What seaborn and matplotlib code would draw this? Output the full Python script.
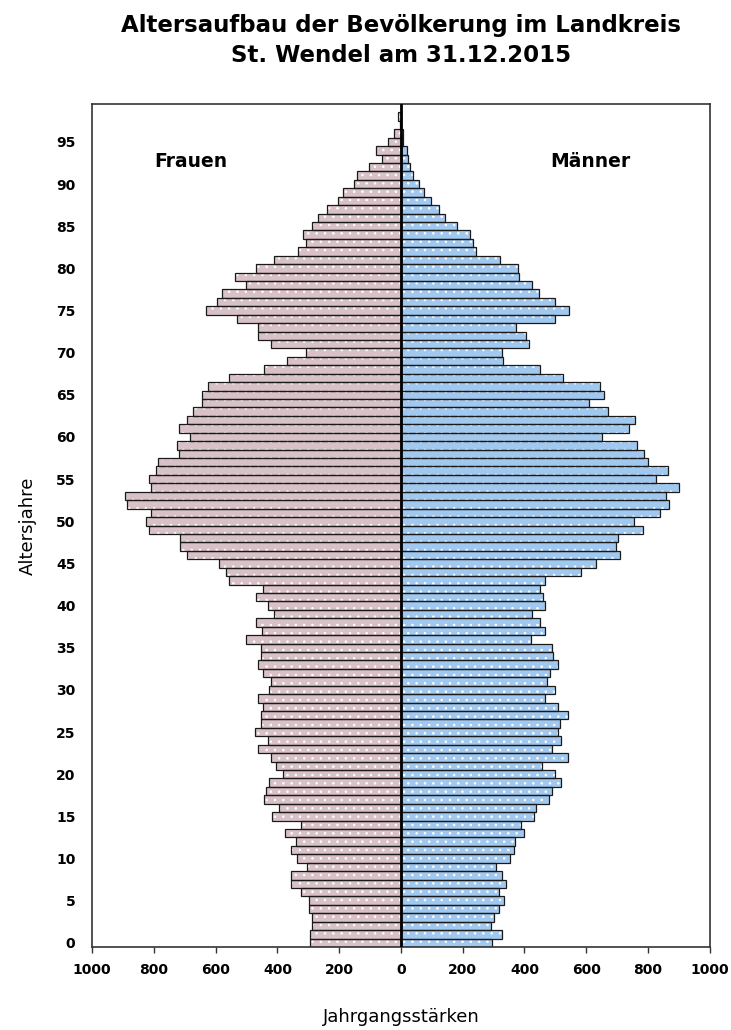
import matplotlib
matplotlib.use('Agg')
import matplotlib.pyplot as plt
import numpy as np
import pandas as pd
import seaborn as sns

# Altersjahre 0..98
ages = list(range(99))

# Frauen, Jahrgangsstärken
frauen = [293, 293, 287, 287, 298, 298, 325, 356, 356, 303,
          335, 355, 339, 375, 323, 416, 396, 443, 437, 426,
          381, 406, 422, 463, 432, 474, 453, 453, 448, 463,
          426, 422, 448, 463, 453, 453, 501, 449, 468, 411,
          432, 468, 448, 558, 568, 589, 694, 714, 714, 815,
          824, 808, 887, 892, 808, 817, 792, 786, 720, 724,
          683, 718, 694, 672, 645, 645, 626, 558, 444, 370,
          307, 422, 463, 463, 532, 630, 595, 578, 501, 537,
          468, 411, 333, 307, 318, 288, 267, 240, 205, 188,
          151, 142, 103, 61, 80, 42, 24, 3, 8]

# Maenner
maenner = [296, 328, 292, 302, 317, 334, 317, 339, 328, 307,
           354, 365, 370, 400, 389, 431, 436, 478, 488, 519,
           499, 457, 541, 488, 519, 508, 514, 541, 508, 467,
           499, 473, 482, 508, 493, 488, 420, 467, 451, 425,
           467, 461, 451, 467, 582, 633, 708, 697, 702, 785,
           754, 838, 868, 857, 899, 827, 864, 801, 786, 765,
           650, 738, 758, 670, 608, 659, 644, 524, 451, 332,
           326, 415, 405, 373, 499, 545, 499, 446, 424, 383,
           379, 321, 243, 234, 222, 180, 144, 123, 97, 75,
           58, 40, 30, 24, 20, 8, 7, 0, 0]

xticks = [-1000, -800, -600, -400, -200, 0, 200, 400, 600, 800, 1000]
xticklabels = ['1000', '800', '600', '400', '200', '0', '200', '400', '600', '800', '1000']
yticks = list(range(0, 100, 5))

df = pd.DataFrame({'alter': ages,
                   'frauen': [-v for v in frauen],
                   'maenner': maenner})

sns.set_style('white')
plt.rcParams['font.family'] = ['DejaVu Sans']
plt.rcParams['hatch.linewidth'] = 0.6
plt.rcParams['text.color'] = 'black'
plt.rcParams['axes.labelcolor'] = 'black'
plt.rcParams['xtick.color'] = 'black'
plt.rcParams['ytick.color'] = 'black'

fig = plt.figure(figsize=(7.31, 10.30), dpi=100)
ax = fig.add_axes([0.126, 0.0806, 0.845, 0.8184])

pink = '#dcbec6'
blue = '#94c8fc'

for col, farbe in [('frauen', pink), ('maenner', blue)]:
    # Fuellung
    sns.barplot(data=df, x=col, y='alter', orient='y', native_scale=True,
                width=1.0, errorbar=None, color=farbe, linewidth=0,
                edgecolor=farbe, ax=ax)
    # weisse Punkte
    sns.barplot(data=df, x=col, y='alter', orient='y', native_scale=True,
                width=1.0, errorbar=None, facecolor='none', edgecolor='white',
                linewidth=0, hatch='..', ax=ax)
    # schwarze Umrandung
    sns.barplot(data=df, x=col, y='alter', orient='y', native_scale=True,
                width=1.0, errorbar=None, facecolor='none', edgecolor='#1a1a1a',
                linewidth=0.9, ax=ax)

ax.set_ylim(-0.5, 99.5)
ax.set_xlim(-1000, 1000)
ax.axvline(0, color='black', linewidth=2.0, zorder=5)

ax.set_xticks(xticks)
ax.set_xticklabels(xticklabels, fontweight='bold', fontsize=10)
ax.set_yticks(yticks)
ax.set_yticklabels([str(t) for t in yticks], fontweight='bold', fontsize=10)
ax.tick_params(axis='x', direction='out', length=4.5, width=1, color='#333333', pad=7, bottom=True)
ax.tick_params(axis='y', length=0, pad=12)

for s in ax.spines.values():
    s.set_color('#333333')
    s.set_linewidth(1.2)

ax.set_xlabel('Jahrgangsstärken', fontsize=13, labelpad=22)
ax.set_ylabel('Altersjahre', fontsize=13, labelpad=14)

ax.text(-680, 92.7, 'Frauen', fontsize=13.5, fontweight='bold', ha='center', va='center')
ax.text(612, 92.7, 'Männer', fontsize=13.5, fontweight='bold', ha='center', va='center')

ax.set_title('Altersaufbau der Bevölkerung im Landkreis\nSt. Wendel am 31.12.2015',
             fontsize=16.5, fontweight='bold', pad=30, linespacing=1.4)

fig.savefig('out.png', dpi=100)
